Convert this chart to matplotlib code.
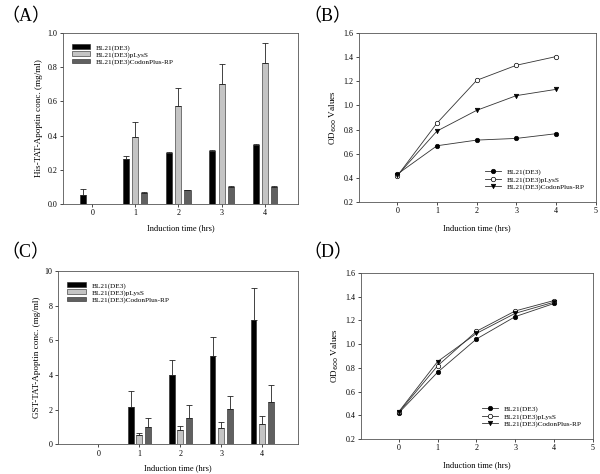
import numpy as np
import matplotlib
matplotlib.use("Agg")
import matplotlib.pyplot as plt

plt.rcParams["font.family"] = ["Liberation Serif", "DejaVu Serif"]

# ---------------------------------------------------------
# Daten
# ---------------------------------------------------------
strains = ["BL21(DE3)", "BL21(DE3)pLysS", "BL21(DE3)CodonPlus-RP"]
hours = [0, 1, 2, 3, 4]

# (A) His-TAT-Apoptin
his_mean = [
    [0.051, 0.26, 0.30, 0.312, 0.343],
    [0.0, 0.39, 0.576, 0.70, 0.824],
    [0.0, 0.066, 0.082, 0.10, 0.10],
]
his_err = [
    [0.035, 0.02, 0.006, 0.004, 0.005],
    [0.0, 0.09, 0.10, 0.118, 0.117],
    [0.0, 0.006, 0.0, 0.002, 0.002],
]

# (C) GST-TAT-Apoptin
gst_mean = [
    [0.0, 2.17, 3.97, 5.09, 7.2],
    [0.0, 0.5, 0.81, 0.95, 1.16],
    [0.0, 0.97, 1.49, 2.03, 2.46],
]
gst_err = [
    [0.0, 0.92, 0.9, 1.1, 1.82],
    [0.0, 0.16, 0.25, 0.35, 0.48],
    [0.0, 0.56, 0.79, 0.77, 0.96],
]

# (B) OD600 (His)
od_b = [
    [0.43, 0.666, 0.713, 0.727, 0.766],
    [0.416, 0.854, 1.209, 1.334, 1.406],
    [0.42, 0.788, 0.96, 1.082, 1.134],
]

# (D) OD600 (GST)
od_d = [
    [0.42, 0.763, 1.043, 1.232, 1.343],
    [0.425, 0.817, 1.108, 1.28, 1.368],
    [0.43, 0.853, 1.09, 1.26, 1.354],
]

bar_colors = ["black", "#c4c4c4", "#606060"]
markers = [("o", "black"), ("o", "white"), ("v", "black")]

fig = plt.figure(figsize=(6, 4.74), dpi=100)

ax_a = fig.add_axes([0.105, 0.570, 0.392, 0.360])
ax_b = fig.add_axes([0.598, 0.574, 0.395, 0.356])
ax_c = fig.add_axes([0.097, 0.063, 0.400, 0.365])
ax_d = fig.add_axes([0.602, 0.074, 0.386, 0.350])


def style(ax):
    for s in ax.spines.values():
        s.set_linewidth(0.6)
        s.set_color("#555555")
    ax.tick_params(labelsize=5.8, length=2, width=0.5, direction="out", pad=2)


def bar_panel(ax, means, errs, ylim, yticks, yfmt, ylabel, xlim):
    x = np.array(hours)
    offs = [-0.21, 0.0, 0.21]
    for i in range(3):
        m = np.array(means[i])
        e = np.array(errs[i])
        ax.bar(x + offs[i], m, width=0.14, color=bar_colors[i],
               edgecolor="#222222", linewidth=0.4, label=strains[i])
        show = m > 0
        ax.errorbar(x[show] + offs[i], m[show],
                    yerr=[np.zeros(show.sum()), e[show]],
                    fmt="none", ecolor="#222222", elinewidth=0.6,
                    capsize=2, capthick=0.6)
    ax.set_xlim(*xlim)
    ax.set_ylim(*ylim)
    ax.set_xticks(hours)
    ax.set_yticks(yticks)
    ax.set_yticklabels([yfmt % v for v in yticks])
    ax.set_ylabel(ylabel, fontsize=6.6, labelpad=3)
    ax.set_xlabel("Induction time (hrs)", fontsize=6, labelpad=5)
    ax.tick_params(axis="x", length=0)
    style(ax)
    ax.legend(loc="upper left", frameon=False, fontsize=5.2,
              handlelength=2.6, handleheight=0.6, labelspacing=0.12,
              borderaxespad=0.8, bbox_to_anchor=(0.0, 0.985))


def line_panel(ax, vals, ylabel):
    for i in range(3):
        mk, fc = markers[i]
        ax.plot(hours, vals[i], color="#333333", linewidth=0.6,
                marker=mk, markersize=3.2, markerfacecolor=fc,
                markeredgecolor="black", markeredgewidth=0.5,
                label=strains[i])
    ax.set_xlim(-0.97, 5)
    ax.set_ylim(0.2, 1.6)
    ax.set_xticks([0, 1, 2, 3, 4, 5])
    ax.set_yticks(np.arange(0.2, 1.61, 0.2))
    ax.set_yticklabels(["%.1f" % v for v in np.arange(0.2, 1.61, 0.2)])
    ax.set_ylabel(ylabel, fontsize=6.6, labelpad=3)
    ax.set_xlabel("Induction time (hrs)", fontsize=6, labelpad=6)
    style(ax)
    ax.legend(loc="lower right", frameon=False, fontsize=5.2,
              handlelength=2.2, labelspacing=0.15, borderaxespad=1.2)


bar_panel(ax_a, his_mean, his_err, (0, 1.0), np.arange(0, 1.01, 0.2), "%.1f",
          "His-TAT-Apoptin conc. (mg/ml)", (-0.68, 4.78))
bar_panel(ax_c, gst_mean, gst_err, (0, 10), np.arange(0, 11, 2), "%d",
          "GST-TAT-Apoptin conc. (mg/ml)", (-0.98, 4.88))
line_panel(ax_b, od_b, "OD$_{600}$ Values")
line_panel(ax_d, od_d, "OD$_{600}$ Values")

# Panel-Beschriftungen
for lab, (px, py) in zip("ABCD", [(0.003, 0.965), (0.505, 0.965),
                                  (0.003, 0.468), (0.505, 0.468)]):
    fig.text(px, py, "\uff08" + lab + "\uff09", fontsize=13,
             family=["Liberation Serif", "Noto Sans CJK SC"], va="center")

fig.savefig("out.png", dpi=100)
